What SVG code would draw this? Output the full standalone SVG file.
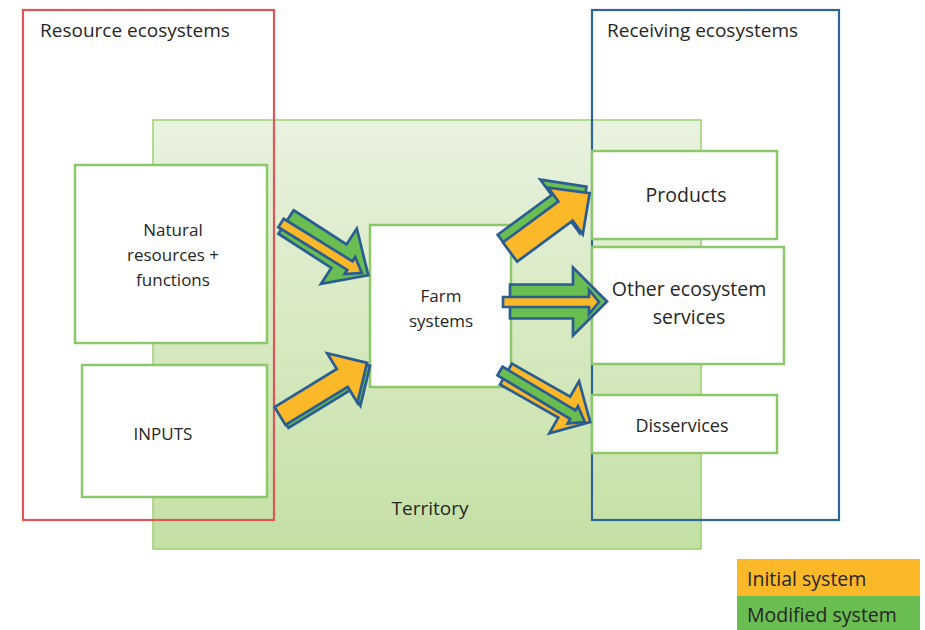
<svg xmlns="http://www.w3.org/2000/svg" width="925" height="630" viewBox="0 0 925 630">
<defs>
<linearGradient id="terr" x1="0" y1="0" x2="0" y2="1">
<stop offset="0" stop-color="#e9f2df"/>
<stop offset="1" stop-color="#c4e0a4"/>
</linearGradient>
</defs>
<style>
text{font-family:"Open Sans","Liberation Sans",sans-serif;fill:#262626}
.box{fill:#ffffff;stroke:#8cc869;stroke-width:2.5}
.arr{stroke:#2a5d91;stroke-width:2.7;stroke-linejoin:miter}
.og{fill:#fbb829}
.gr{fill:#6abd50}
</style>
<rect width="925" height="630" fill="#ffffff"/>
<g id="territory">
<rect x="153" y="120" width="548" height="429" fill="url(#terr)" stroke="#9ad170" stroke-width="1.5"/>
<text x="430" y="515" font-size="19" text-anchor="middle">Territory</text>
</g>
<g id="resource-ecosystems">
<rect x="23" y="10" width="251" height="510" fill="none" stroke="#e05555" stroke-width="2.2"/>
<text x="40" y="37" font-size="19">Resource ecosystems</text>
</g>
<g id="receiving-ecosystems">
<rect x="592" y="10" width="247" height="510" fill="none" stroke="#2e6496" stroke-width="2.2"/>
<text x="607" y="37" font-size="19">Receiving ecosystems</text>
</g>
<g id="natural-resources">
<rect class="box" x="75" y="165" width="192" height="178"/>
<text x="173" y="236" font-size="17" text-anchor="middle">Natural</text>
<text x="173" y="261" font-size="17" text-anchor="middle">resources +</text>
<text x="173" y="286" font-size="17" text-anchor="middle">functions</text>
</g>
<g id="inputs">
<rect class="box" x="82" y="365" width="185" height="132"/>
<text x="163" y="440" font-size="17" text-anchor="middle">INPUTS</text>
</g>
<g id="farm-systems">
<rect class="box" x="370" y="225" width="141" height="162"/>
<text x="441" y="302" font-size="17" text-anchor="middle">Farm</text>
<text x="441" y="327" font-size="17" text-anchor="middle">systems</text>
</g>
<g id="products">
<rect class="box" x="592" y="151" width="185" height="88"/>
<text x="686" y="202" font-size="19.5" text-anchor="middle">Products</text>
</g>
<g id="other-services">
<rect class="box" x="592" y="247" width="192" height="117"/>
<text x="689" y="296" font-size="19.5" text-anchor="middle">Other ecosystem</text>
<text x="689" y="324" font-size="19.5" text-anchor="middle">services</text>
</g>
<g id="disservices">
<rect class="box" x="592" y="395" width="185" height="58"/>
<text x="682" y="432" font-size="18" text-anchor="middle">Disservices</text>
</g>
<g id="connectors">
<g transform="translate(286,222) rotate(32.9)">
<path class="arr gr" d="M0,-14 L63,-14 L63,-33 L98,0 L63,33 L63,14 L0,14 Z"/>
</g>
<g transform="translate(281,223) rotate(31.7)">
<path class="arr og" d="M0,-5 L81,-5 L81,-10 L95,0 L81,10 L81,5 L0,5 Z"/>
</g>
<g transform="translate(283,419) rotate(-31.4)">
<path class="arr gr" d="M0,-10.5 L73,-10.5 L73,-29 L102,0 L73,29 L73,10.5 L0,10.5 Z"/>
</g>
<g transform="translate(280,416) rotate(-31.4)">
<path class="arr og" d="M0,-10.5 L73,-10.5 L73,-29 L102,0 L73,29 L73,10.5 L0,10.5 Z"/>
</g>
<g transform="translate(506,246) rotate(-36.4)">
<path class="arr gr" d="M0,-14 L67,-14 L67,-33 L100,0 L67,33 L67,14 L0,14 Z"/>
</g>
<g transform="translate(510,252) rotate(-36.4)">
<path class="arr og" d="M0,-12 L69,-12 L69,-29 L99,0 L69,29 L69,12 L0,12 Z"/>
</g>
<g transform="translate(510,301.5)">
<path class="arr gr" d="M0,-17 L63,-17 L63,-34 L97,0 L63,34 L63,17 L0,17 Z"/>
</g>
<g transform="translate(503,302)">
<path class="arr og" d="M0,-5 L86,-5 L86,-12 L96,0 L86,12 L86,5 L0,5 Z"/>
</g>
<g transform="translate(506,374) rotate(29.7)">
<path class="arr og" d="M0,-12 L67,-12 L67,-30 L97,0 L67,30 L67,12 L0,12 Z"/>
</g>
<g transform="translate(500,371) rotate(31)">
<path class="arr gr" d="M0,-5 L85,-5 L85,-10 L99,0 L85,10 L85,5 L0,5 Z"/>
</g>
</g>
<g id="legend">
<rect x="737" y="559" width="183" height="37" fill="#fbb829"/>
<rect x="737" y="596" width="183" height="34" fill="#6abd50"/>
<text x="747" y="586" font-size="19.5">Initial system</text>
<text x="747" y="622" font-size="19.5">Modified system</text>
</g>
</svg>
